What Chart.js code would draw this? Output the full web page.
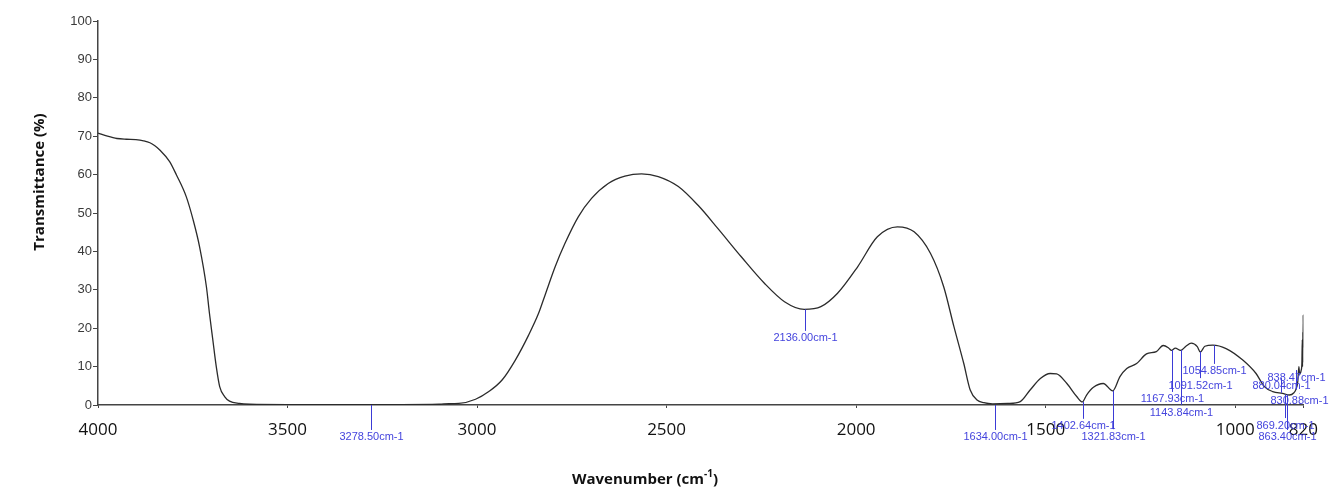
<!DOCTYPE html>
<html>
<head>
<meta charset="utf-8">
<script src="https://cdn.jsdelivr.net/npm/chart.js@4.4.1/dist/chart.umd.min.js"></script>
<style>
  html, body { margin: 0; padding: 0; background: #fff; }
  #wrap { width: 1330px; height: 500px; }
</style>
</head>
<body>
<div id="wrap"><canvas id="irChart" width="1330" height="500"></canvas></div>
<script>
// IR spectrum, values
const wavenumbers = [
    4000, 3975, 3950, 3925, 3900, 3880, 3863, 3850, 3837, 3811, 3793, 3767, 3749, 3732, 3714, 3706, 3697,
    3688, 3679, 3666, 3653, 3627, 3600, 3500, 3400, 3300, 3200, 3100, 3088, 3048, 3004, 2969, 2934,
    2899, 2864, 2838, 2820, 2794, 2768, 2733, 2698, 2654, 2610, 2566, 2522, 2469, 2417, 2365, 2303,
    2242, 2189, 2137, 2093, 2049, 1996, 1944, 1891, 1847, 1804, 1769, 1742, 1716, 1699, 1681, 1663,
    1640, 1600, 1567, 1541, 1514, 1488, 1471, 1444, 1418, 1403, 1392, 1374, 1348, 1323, 1304, 1286,
    1260, 1234, 1208, 1190, 1175, 1168, 1158, 1144, 1130, 1116, 1100, 1092, 1080, 1059, 1024, 980,
    945, 923, 901, 875, 857, 845, 840, 835, 832, 830, 826, 824, 823, 822, 821.5, 821, 820.5, 820
]
const transmittance = [
    70.8, 70.0, 69.4, 69.2, 69.1, 68.8, 68.3, 67.5, 66.4, 63.4, 59.9, 54.2, 48.2, 41.2, 30.8, 23.9, 16.9,
    10.0, 4.8, 2.2, 1.0, 0.4, 0.2, 0.1, 0.1, 0.1, 0.1, 0.2, 0.3, 0.4, 1.5, 3.5, 6.5,
    11.7, 18.2, 23.8, 28.8, 36.0, 42.1, 49.0, 53.8, 57.7, 59.6, 60.2, 59.5, 56.9, 52.0, 46.0, 38.6,
    31.7, 26.9, 24.9, 25.6, 29.1, 36.0, 43.8, 46.4, 45.1, 39.5, 30.8, 20.4, 10.8, 3.9, 1.3, 0.6,
    0.3, 0.4, 0.9, 3.9, 6.9, 8.2, 8.1, 5.6, 2.2, 0.8, 2.6, 4.6, 5.6, 3.7, 7.4, 9.5,
    10.8, 13.3, 13.9, 15.5, 14.8, 14.2, 14.8, 14.2, 15.3, 16.1, 15.2, 13.8, 15.3, 15.6, 14.7, 11.7,
    8.2, 4.8, 3.5, 3.0, 2.6, 3.2, 4.0, 6.0, 10.0, 8.0, 9.0, 11.0, 17.0, 10.0, 19.0, 11.0, 23.4, 15.0
]
const xTicks = [4000, 3500, 3000, 2500, 2000, 1500, 1000, 820]

// peak picks from the instrument software
const peakWavenumbers = [3278.50, 2136.00, 1634.00, 1402.64, 1321.83, 1167.93, 1143.84, 1091.52, 1054.85, 880.04, 869.20, 863.40, 838.47, 830.88]
const peakValues = [0, 24.9, 0, 0.8, 3.7, 14.3, 14.3, 13.9, 15.6, 3.2, 2.8, 2.7, 4.0, 3.0]
const peakLabelLevels = [-6.5, 19.3, -6.5, -3.6, -6.3, 3.4, 0, 7.0, 10.7, 7.0, -3.4, -6.5, 9.1, 3.1]

const points = wavenumbers.map((w, i) => ({ x: w, y: transmittance[i] }))

const peakPicks = {
    id: 'peakPicks',
    afterDatasetsDraw(chart) {
        const { ctx, scales: { x, y } } = chart
        ctx.save()
        ctx.strokeStyle = '#3b3bd6'
        ctx.fillStyle = '#4444dd'
        ctx.lineWidth = 1
        ctx.font = '11px "Liberation Sans", Arial, sans-serif'
        ctx.textAlign = 'center'
        ctx.textBaseline = 'top'
        peakWavenumbers.forEach((w, i) => {
            const px = Math.round(x.getPixelForValue(w)) + 0.5
            const y1 = y.getPixelForValue(peakValues[i])
            const y2 = y.getPixelForValue(peakLabelLevels[i])
            ctx.beginPath()
            ctx.moveTo(px, y1)
            ctx.lineTo(px, y2)
            ctx.stroke()
            ctx.fillText(w.toFixed(2) + 'cm-1', px, y2 + 2)
        })
        ctx.restore()
    }
}

const axisTitles = {
    id: 'axisTitles',
    afterDraw(chart) {
        const ctx = chart.ctx
        ctx.save()
        ctx.fillStyle = '#111'
        ctx.font = 'bold 15px "Open Sans", sans-serif'
        ctx.textBaseline = 'middle'
        // y title
        ctx.save()
        ctx.translate(40, 182)
        ctx.rotate(-Math.PI / 2)
        ctx.textAlign = 'center'
        ctx.fillText('Transmittance (%)', 0, 0)
        ctx.restore()
        // x title with superscript
        const main = 'Wavenumber (cm'
        const sup = '-1'
        ctx.font = 'bold 15px "Open Sans", sans-serif'
        const w1 = ctx.measureText(main).width
        const w3 = ctx.measureText(')').width
        ctx.font = 'bold 10px "Open Sans", sans-serif'
        const w2 = ctx.measureText(sup).width
        let sx = 645 - (w1 + w2 + w3) / 2
        const ty = 480
        ctx.textAlign = 'left'
        ctx.font = 'bold 15px "Open Sans", sans-serif'
        ctx.fillText(main, sx, ty)
        ctx.font = 'bold 10px "Open Sans", sans-serif'
        ctx.fillText(sup, sx + w1, ty - 6)
        ctx.font = 'bold 15px "Open Sans", sans-serif'
        ctx.fillText(')', sx + w1 + w2, ty)
        ctx.restore()
    }
}

let ctx = document.querySelector('#irChart').getContext('2d')

let irChart = new Chart(ctx, {
    type: 'line',
    data: {
        datasets: [{
            label: 'Transmittance',
            data: points,
            borderColor: '#2b2b2b',
            borderWidth: 1.3,
            pointRadius: 0,
            fill: false,
            cubicInterpolationMode: 'monotone'
        }]
    },
    options: {
        responsive: false,
        animation: false,
        layout: { padding: { left: 0, right: 23, top: 21, bottom: 0 } },
        plugins: {
            legend: { display: false },
            tooltip: { enabled: false }
        },
        scales: {
            x: {
                type: 'linear',
                reverse: true,
                min: 820,
                max: 4000,
                afterBuildTicks: s => { s.ticks = xTicks.map(v => ({ value: v })) },
                afterFit: s => { s.height = 95 },
                border: { color: '#444', width: 1.5 },
                grid: { drawOnChartArea: false, drawTicks: true, tickLength: 3, color: '#444' },
                ticks: {
                    autoSkip: false,
                    maxRotation: 0,
                    padding: 12,
                    color: '#111',
                    font: { family: '"Open Sans", sans-serif', size: 17 },
                    callback: v => String(v)
                }
            },
            y: {
                min: 0,
                max: 100,
                afterFit: s => { s.width = 98 },
                border: { color: '#444', width: 1.5 },
                grid: { drawOnChartArea: false, drawTicks: true, tickLength: 5, color: '#444' },
                ticks: {
                    stepSize: 10,
                    padding: 1,
                    color: '#3a3a3a',
                    font: { family: '"Liberation Sans", Arial, sans-serif', size: 13 }
                }
            }
        }
    },
    plugins: [peakPicks, axisTitles]
})
</script>
</body>
</html>
